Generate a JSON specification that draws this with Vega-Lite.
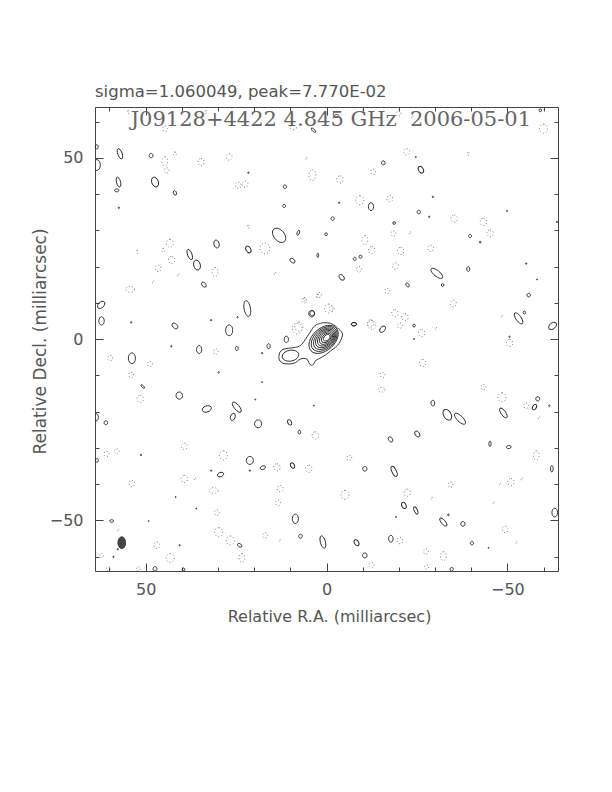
{
  "$schema": "https://vega.github.io/schema/vega-lite/v6.json",
  "width": 463,
  "height": 464,
  "autosize": {"type": "none"},
  "padding": {"left": 95, "top": 107, "right": 54, "bottom": 221},
  "background": "white",
  "title": {"text": "sigma=1.060049, peak=7.770E-02", "anchor": "start", "frame": "group", "offset": -7, "baseline": "alphabetic", "font": "DejaVu Sans", "fontSize": 16.5, "fontWeight": "normal", "color": "#555"},
  "config": {
    "view": {"stroke": "#444", "strokeWidth": 1},
    "axis": {"domain": false, "grid": false, "tickColor": "#444", "tickWidth": 1, "labelFont": "DejaVu Sans", "labelFontSize": 16, "labelColor": "#555", "labelFlush": false, "labelOverlap": false, "titleFont": "DejaVu Sans", "titleFontSize": 16, "titleFontWeight": "normal", "titleColor": "#555"}
  },
  "datasets": {
    "pos": [
      {"ra":63.5,"dec":53,"ext":1.2,"form":"oval","pa":0},
      {"ra":57.1,"dec":51.1,"ext":3,"form":"long","pa":-20},
      {"ra":63.5,"dec":48,"ext":3,"form":"oval","pa":0},
      {"ra":48.5,"dec":50.6,"ext":1.2,"form":"round","pa":0},
      {"ra":57.5,"dec":43.3,"ext":2.8,"form":"long","pa":-15},
      {"ra":58,"dec":41,"ext":1.2,"form":"oval","pa":90},
      {"ra":47.4,"dec":43.3,"ext":2.8,"form":"oval","pa":-20},
      {"ra":41.9,"dec":40.3,"ext":1.3,"form":"oval","pa":-20},
      {"ra":57.4,"dec":36.2,"ext":0.4,"form":"round","pa":0},
      {"ra":21.6,"dec":45.9,"ext":0.4,"form":"round","pa":0},
      {"ra":11.5,"dec":42,"ext":1,"form":"round","pa":0},
      {"ra":11.7,"dec":36.7,"ext":0.9,"form":"round","pa":0},
      {"ra":3.6,"dec":57.6,"ext":1.6,"form":"long","pa":-45},
      {"ra":13.1,"dec":28.6,"ext":4.5,"form":"oval","pa":-40},
      {"ra":7.8,"dec":29.3,"ext":1.5,"form":"long","pa":20},
      {"ra":0.1,"dec":28.9,"ext":0.8,"form":"round","pa":0},
      {"ra":30.4,"dec":26.2,"ext":2.2,"form":"oval","pa":-15},
      {"ra":21.6,"dec":24.7,"ext":2,"form":"oval","pa":-30},
      {"ra":2.4,"dec":23.1,"ext":1.2,"form":"long","pa":0},
      {"ra":9.4,"dec":21.6,"ext":1.6,"form":"oval","pa":-50},
      {"ra":37.8,"dec":23.3,"ext":3,"form":"long","pa":-20},
      {"ra":35.8,"dec":20.4,"ext":2.8,"form":"oval","pa":-15},
      {"ra":33.9,"dec":15,"ext":1.6,"form":"oval","pa":-40},
      {"ra":62.3,"dec":9.4,"ext":2.4,"form":"oval","pa":45},
      {"ra":62.2,"dec":5,"ext":2.3,"form":"oval","pa":0},
      {"ra":54,"dec":4.6,"ext":0.4,"form":"round","pa":0},
      {"ra":41.9,"dec":3.6,"ext":1.9,"form":"oval","pa":-45},
      {"ra":31.9,"dec":5.2,"ext":0.4,"form":"round","pa":0},
      {"ra":21.9,"dec":8.4,"ext":4.4,"form":"long","pa":-10},
      {"ra":24.6,"dec":6,"ext":0.4,"form":"round","pa":0},
      {"ra":26.9,"dec":2.4,"ext":3,"form":"oval","pa":0},
      {"ra":4.1,"dec":7,"ext":1.8,"form":"round","pa":0},
      {"ra":3.96,"dec":7.07,"ext":1.4,"form":"round","pa":0},
      {"ra":-7.57,"dec":4.04,"ext":1.4,"form":"oval","pa":90},
      {"ra":11.1,"dec":-0.1,"ext":1.8,"form":"oval","pa":0},
      {"ra":-2.8,"dec":61.5,"ext":1.3,"form":"oval","pa":90},
      {"ra":-15.7,"dec":48.6,"ext":1.1,"form":"round","pa":0},
      {"ra":-26.1,"dec":46.7,"ext":2,"form":"oval","pa":-30},
      {"ra":-29.4,"dec":39.2,"ext":0.4,"form":"round","pa":0},
      {"ra":-3.5,"dec":37.6,"ext":0.4,"form":"round","pa":0},
      {"ra":-12.3,"dec":36.5,"ext":2.2,"form":"oval","pa":0},
      {"ra":-25.5,"dec":35,"ext":1,"form":"round","pa":0},
      {"ra":-28.4,"dec":33.7,"ext":0.4,"form":"round","pa":0},
      {"ra":-1.7,"dec":33.2,"ext":1,"form":"round","pa":0},
      {"ra":-18.7,"dec":32,"ext":0.8,"form":"round","pa":0},
      {"ra":-39.7,"dec":28.4,"ext":0.9,"form":"round","pa":0},
      {"ra":-42.5,"dec":26.7,"ext":0.5,"form":"round","pa":0},
      {"ra":-7.8,"dec":22.1,"ext":0.9,"form":"round","pa":0},
      {"ra":-9.4,"dec":22.7,"ext":0.9,"form":"round","pa":0},
      {"ra":-4.2,"dec":17,"ext":1.8,"form":"oval","pa":-40},
      {"ra":-30.5,"dec":18.1,"ext":4,"form":"long","pa":-51},
      {"ra":-32.1,"dec":14.9,"ext":0.8,"form":"round","pa":0},
      {"ra":-22.4,"dec":14.9,"ext":1.2,"form":"oval","pa":-40},
      {"ra":-39.2,"dec":19.3,"ext":1.3,"form":"oval","pa":0},
      {"ra":-55.2,"dec":20.8,"ext":0.4,"form":"round","pa":0},
      {"ra":-55.9,"dec":12.1,"ext":1,"form":"round","pa":0},
      {"ra":-53.1,"dec":5.7,"ext":3.6,"form":"long","pa":-35},
      {"ra":-54.7,"dec":7.3,"ext":0.8,"form":"round","pa":0},
      {"ra":-62.5,"dec":3.6,"ext":2.5,"form":"oval","pa":50},
      {"ra":-7.6,"dec":4.1,"ext":1.5,"form":"oval","pa":90},
      {"ra":-15.5,"dec":2.7,"ext":2,"form":"oval","pa":40},
      {"ra":-24.2,"dec":3.7,"ext":0.8,"form":"round","pa":0},
      {"ra":-63.7,"dec":32.3,"ext":0.4,"form":"round","pa":0},
      {"ra":-49.9,"dec":35.3,"ext":0.3,"form":"round","pa":0},
      {"ra":-58.2,"dec":16.4,"ext":0.3,"form":"round","pa":0},
      {"ra":-24.7,"dec":50.2,"ext":0.3,"form":"round","pa":0},
      {"ra":-59.1,"dec":63.1,"ext":0.8,"form":"round","pa":0},
      {"ra":-50.6,"dec":0.6,"ext":0.4,"form":"round","pa":0},
      {"ra":53.8,"dec":-5.3,"ext":3,"form":"oval","pa":0},
      {"ra":42.9,"dec":-2,"ext":0.4,"form":"round","pa":0},
      {"ra":35.2,"dec":-2.9,"ext":2.2,"form":"oval","pa":0},
      {"ra":24.8,"dec":-2.6,"ext":1.2,"form":"oval","pa":0},
      {"ra":16,"dec":-2,"ext":1.4,"form":"oval","pa":0},
      {"ra":17.8,"dec":-3.9,"ext":0.4,"form":"round","pa":0},
      {"ra":29.8,"dec":-9.2,"ext":0.4,"form":"round","pa":0},
      {"ra":50.8,"dec":-13.1,"ext":1.3,"form":"long","pa":-45},
      {"ra":40.7,"dec":-15.6,"ext":2,"form":"round","pa":0},
      {"ra":33.1,"dec":-19.3,"ext":2.6,"form":"oval","pa":70},
      {"ra":24.8,"dec":-18.8,"ext":3.5,"form":"long","pa":-40},
      {"ra":25.9,"dec":-21.5,"ext":2,"form":"oval","pa":20},
      {"ra":18.9,"dec":-23.4,"ext":2.2,"form":"round","pa":0},
      {"ra":10.2,"dec":-23,"ext":1.6,"form":"oval","pa":-30},
      {"ra":7.5,"dec":-25.7,"ext":1.1,"form":"oval","pa":0},
      {"ra":63.7,"dec":-21.6,"ext":2,"form":"oval","pa":0},
      {"ra":61,"dec":-23.1,"ext":1.1,"form":"round","pa":0},
      {"ra":51.3,"dec":-32,"ext":0.4,"form":"round","pa":0},
      {"ra":21.2,"dec":-33.5,"ext":2.2,"form":"round","pa":0},
      {"ra":17.6,"dec":-35.5,"ext":1.5,"form":"oval","pa":70},
      {"ra":9.4,"dec":-34.9,"ext":1.6,"form":"oval","pa":-30},
      {"ra":29.3,"dec":-37.4,"ext":1.8,"form":"oval","pa":70},
      {"ra":31.9,"dec":-36.3,"ext":0.4,"form":"round","pa":0},
      {"ra":21.2,"dec":-36.3,"ext":0.4,"form":"round","pa":0},
      {"ra":59.4,"dec":-50.2,"ext":1.1,"form":"oval","pa":90},
      {"ra":8.6,"dec":-49.6,"ext":2.6,"form":"oval","pa":0},
      {"ra":7.2,"dec":-54.4,"ext":1.1,"form":"round","pa":0},
      {"ra":1,"dec":-56,"ext":3.5,"form":"long","pa":-15},
      {"ra":24,"dec":-56.9,"ext":1.3,"form":"oval","pa":-50},
      {"ra":40.6,"dec":-56.9,"ext":0.4,"form":"round","pa":0},
      {"ra":57.7,"dec":-58,"ext":0.4,"form":"round","pa":0},
      {"ra":58.9,"dec":-60.1,"ext":0.4,"form":"round","pa":0},
      {"ra":47.4,"dec":-63.4,"ext":1.2,"form":"round","pa":0},
      {"ra":39.5,"dec":-63.6,"ext":0.8,"form":"round","pa":0},
      {"ra":41.7,"dec":-43.6,"ext":0.3,"form":"round","pa":0},
      {"ra":36,"dec":-46.8,"ext":0.3,"form":"round","pa":0},
      {"ra":17.8,"dec":-11.9,"ext":0.3,"form":"round","pa":0},
      {"ra":19.7,"dec":-16.7,"ext":0.3,"form":"round","pa":0},
      {"ra":3.5,"dec":-18.4,"ext":0.3,"form":"round","pa":0},
      {"ra":49.2,"dec":-50.2,"ext":0.3,"form":"round","pa":0},
      {"ra":63.5,"dec":-33.5,"ext":1,"form":"round","pa":0},
      {"ra":-29.4,"dec":-17.7,"ext":1.6,"form":"oval","pa":0},
      {"ra":-33.4,"dec":-20.9,"ext":3.2,"form":"oval","pa":-30},
      {"ra":-36.9,"dec":-22,"ext":4,"form":"long","pa":-45},
      {"ra":-17.7,"dec":-27.7,"ext":1.6,"form":"oval","pa":-35},
      {"ra":-25.1,"dec":-26.2,"ext":1.8,"form":"oval","pa":-35},
      {"ra":-45.2,"dec":-28.9,"ext":1.5,"form":"long","pa":0},
      {"ra":-50.4,"dec":-29.8,"ext":1.3,"form":"oval","pa":80},
      {"ra":-58.4,"dec":-16.5,"ext":1.2,"form":"round","pa":0},
      {"ra":-57.5,"dec":-18.8,"ext":1.6,"form":"oval","pa":30},
      {"ra":-61.6,"dec":-18.4,"ext":0.4,"form":"round","pa":0},
      {"ra":-48.9,"dec":-20.4,"ext":3.2,"form":"long","pa":-35},
      {"ra":-10.6,"dec":-35.8,"ext":1.3,"form":"round","pa":0},
      {"ra":-18.7,"dec":-36.5,"ext":3,"form":"long","pa":-25},
      {"ra":-62.3,"dec":-35.8,"ext":1.8,"form":"long","pa":0},
      {"ra":-21.4,"dec":-45.9,"ext":1.8,"form":"oval","pa":-25},
      {"ra":-24.7,"dec":-47.3,"ext":2.2,"form":"long","pa":-25},
      {"ra":-32.3,"dec":-50.5,"ext":2.8,"form":"long","pa":-40},
      {"ra":-33.7,"dec":-48.5,"ext":0.5,"form":"round","pa":0},
      {"ra":-37.7,"dec":-51,"ext":1.3,"form":"round","pa":0},
      {"ra":-63.1,"dec":-47.9,"ext":2.4,"form":"oval","pa":0},
      {"ra":-8.3,"dec":-56.2,"ext":1.8,"form":"oval","pa":-30},
      {"ra":-17.8,"dec":-55.1,"ext":1.9,"form":"oval","pa":0},
      {"ra":-10.6,"dec":-59.7,"ext":1.4,"form":"round","pa":0},
      {"ra":-40.2,"dec":-56.3,"ext":1,"form":"round","pa":0},
      {"ra":-34.6,"dec":-63.5,"ext":1,"form":"round","pa":0},
      {"ra":-44.8,"dec":-57.6,"ext":0.3,"form":"round","pa":0},
      {"ra":-19.2,"dec":-49.1,"ext":0.3,"form":"round","pa":0},
      {"ra":-24.2,"dec":0,"ext":0.3,"form":"round","pa":0}
    ],
    "neg": [
      {"ra":54.8,"dec":62.6,"ext":0.8,"form":"round","pa":0},
      {"ra":33.4,"dec":62.6,"ext":0.8,"form":"round","pa":0},
      {"ra":44.6,"dec":58,"ext":1.5,"form":"round","pa":0},
      {"ra":9.2,"dec":58.3,"ext":1.8,"form":"oval","pa":90},
      {"ra":44.7,"dec":49,"ext":2.5,"form":"oval","pa":0},
      {"ra":41.9,"dec":51.1,"ext":1,"form":"round","pa":0},
      {"ra":44.2,"dec":46.5,"ext":1.5,"form":"round","pa":0},
      {"ra":34.7,"dec":48.8,"ext":2,"form":"round","pa":0},
      {"ra":26.9,"dec":50.2,"ext":1.8,"form":"round","pa":0},
      {"ra":5.5,"dec":49.8,"ext":0.6,"form":"round","pa":0},
      {"ra":3.9,"dec":45.2,"ext":3,"form":"oval","pa":0},
      {"ra":24.4,"dec":42.4,"ext":1.8,"form":"round","pa":0},
      {"ra":22.5,"dec":42.7,"ext":1.8,"form":"round","pa":0},
      {"ra":21.6,"dec":31,"ext":0.8,"form":"round","pa":0},
      {"ra":52.3,"dec":24.1,"ext":0.8,"form":"round","pa":0},
      {"ra":43.3,"dec":26.4,"ext":2.2,"form":"round","pa":0},
      {"ra":45.1,"dec":24.5,"ext":1,"form":"round","pa":0},
      {"ra":42.8,"dec":21.8,"ext":2,"form":"round","pa":0},
      {"ra":46.5,"dec":19.5,"ext":1.8,"form":"round","pa":0},
      {"ra":41,"dec":17.6,"ext":0.6,"form":"round","pa":0},
      {"ra":47.9,"dec":15.8,"ext":0.6,"form":"round","pa":0},
      {"ra":30.8,"dec":18.5,"ext":2.5,"form":"oval","pa":0},
      {"ra":54.3,"dec":13.7,"ext":2.5,"form":"oval","pa":90},
      {"ra":17,"dec":25,"ext":3,"form":"round","pa":0},
      {"ra":14.2,"dec":18.1,"ext":0.6,"form":"round","pa":0},
      {"ra":6.1,"dec":10.9,"ext":0.8,"form":"round","pa":0},
      {"ra":2.4,"dec":11.8,"ext":1,"form":"round","pa":0},
      {"ra":7.6,"dec":3.4,"ext":2.5,"form":"round","pa":0},
      {"ra":8.1,"dec":2.9,"ext":3,"form":"round","pa":0},
      {"ra":-0.6,"dec":8.4,"ext":2.5,"form":"round","pa":0},
      {"ra":6.2,"dec":10.7,"ext":1.5,"form":"round","pa":0},
      {"ra":2.1,"dec":12.1,"ext":1.5,"form":"round","pa":0},
      {"ra":-12.2,"dec":4.3,"ext":2,"form":"round","pa":0},
      {"ra":-10.2,"dec":62.9,"ext":0.8,"form":"round","pa":0},
      {"ra":-19.9,"dec":62.2,"ext":1.5,"form":"round","pa":0},
      {"ra":-23.8,"dec":61.2,"ext":0.6,"form":"round","pa":0},
      {"ra":-60,"dec":58,"ext":2.5,"form":"round","pa":0},
      {"ra":-22.2,"dec":51.6,"ext":1.8,"form":"round","pa":0},
      {"ra":-39.2,"dec":51.1,"ext":0.8,"form":"round","pa":0},
      {"ra":-12.9,"dec":46.1,"ext":1.5,"form":"round","pa":0},
      {"ra":-3.7,"dec":44,"ext":2,"form":"round","pa":0},
      {"ra":-9.2,"dec":38.3,"ext":2.5,"form":"round","pa":0},
      {"ra":-17.5,"dec":38.7,"ext":1.8,"form":"round","pa":0},
      {"ra":-35.3,"dec":33.2,"ext":2,"form":"round","pa":0},
      {"ra":-43.4,"dec":32.3,"ext":2,"form":"round","pa":0},
      {"ra":-45.2,"dec":29.1,"ext":2,"form":"round","pa":0},
      {"ra":-18.5,"dec":29.1,"ext":1.5,"form":"round","pa":0},
      {"ra":-23.1,"dec":29.3,"ext":0.6,"form":"round","pa":0},
      {"ra":-10.6,"dec":27.3,"ext":2.5,"form":"oval","pa":0},
      {"ra":-12.5,"dec":24.5,"ext":2,"form":"round","pa":0},
      {"ra":-20.5,"dec":24.3,"ext":2,"form":"round","pa":0},
      {"ra":-28.8,"dec":25,"ext":1.8,"form":"round","pa":0},
      {"ra":-19.1,"dec":20.1,"ext":1.8,"form":"round","pa":0},
      {"ra":-9,"dec":19.2,"ext":1.5,"form":"round","pa":0},
      {"ra":-16.8,"dec":13.2,"ext":1.5,"form":"round","pa":0},
      {"ra":-35.1,"dec":9.8,"ext":1.8,"form":"round","pa":0},
      {"ra":-1.4,"dec":8.4,"ext":1.5,"form":"round","pa":0},
      {"ra":-18.9,"dec":7.1,"ext":2,"form":"round","pa":0},
      {"ra":-21.7,"dec":6,"ext":2,"form":"round","pa":0},
      {"ra":-12.5,"dec":3.9,"ext":2.5,"form":"round","pa":0},
      {"ra":-20.3,"dec":3.7,"ext":1.5,"form":"round","pa":0},
      {"ra":-26.3,"dec":1.6,"ext":2,"form":"round","pa":0},
      {"ra":-30.3,"dec":2.9,"ext":0.6,"form":"round","pa":0},
      {"ra":-48.5,"dec":6.3,"ext":0.6,"form":"round","pa":0},
      {"ra":59.8,"dec":-5.3,"ext":1.5,"form":"round","pa":0},
      {"ra":48.8,"dec":-6.9,"ext":1.5,"form":"round","pa":0},
      {"ra":54,"dec":-9.9,"ext":1.5,"form":"round","pa":0},
      {"ra":51.5,"dec":-16.5,"ext":2,"form":"round","pa":0},
      {"ra":30.6,"dec":-3.5,"ext":1.5,"form":"round","pa":0},
      {"ra":39.3,"dec":-29.6,"ext":1.8,"form":"round","pa":0},
      {"ra":60.8,"dec":-31.7,"ext":1.5,"form":"round","pa":0},
      {"ra":58,"dec":-31,"ext":1.5,"form":"round","pa":0},
      {"ra":28.5,"dec":-32.1,"ext":2.5,"form":"round","pa":0},
      {"ra":13.7,"dec":-35.4,"ext":2,"form":"round","pa":0},
      {"ra":4.9,"dec":-35.8,"ext":2,"form":"round","pa":0},
      {"ra":3.1,"dec":-26.6,"ext":2,"form":"round","pa":0},
      {"ra":53.8,"dec":-39.9,"ext":1.8,"form":"round","pa":0},
      {"ra":39.3,"dec":-38.6,"ext":2,"form":"round","pa":0},
      {"ra":36.3,"dec":-38.6,"ext":0.6,"form":"round","pa":0},
      {"ra":31.2,"dec":-41.8,"ext":2.5,"form":"oval","pa":90},
      {"ra":12.8,"dec":-41.3,"ext":1.8,"form":"round","pa":0},
      {"ra":13.4,"dec":-45.2,"ext":1.5,"form":"round","pa":0},
      {"ra":30.3,"dec":-47.9,"ext":1.5,"form":"round","pa":0},
      {"ra":29.8,"dec":-53.3,"ext":2.5,"form":"round","pa":0},
      {"ra":26.6,"dec":-55.6,"ext":2.5,"form":"round","pa":0},
      {"ra":16.9,"dec":-54.2,"ext":1.5,"form":"round","pa":0},
      {"ra":12.9,"dec":-55.6,"ext":0.6,"form":"round","pa":0},
      {"ra":46.9,"dec":-56.9,"ext":1.8,"form":"round","pa":0},
      {"ra":43.2,"dec":-60.4,"ext":2.5,"form":"round","pa":0},
      {"ra":23.4,"dec":-60.4,"ext":2.5,"form":"oval","pa":0},
      {"ra":60.3,"dec":-63.4,"ext":1.2,"form":"round","pa":0},
      {"ra":52,"dec":-63.4,"ext":1.2,"form":"round","pa":0},
      {"ra":62.2,"dec":-59.7,"ext":1.2,"form":"round","pa":0},
      {"ra":57.5,"dec":-52.8,"ext":0.6,"form":"round","pa":0},
      {"ra":-50.6,"dec":-1.1,"ext":2,"form":"round","pa":0},
      {"ra":-26.6,"dec":-6.6,"ext":2,"form":"round","pa":0},
      {"ra":-15.5,"dec":-9.9,"ext":1.5,"form":"round","pa":0},
      {"ra":-15.2,"dec":-14,"ext":2,"form":"oval","pa":90},
      {"ra":-43.4,"dec":-13.3,"ext":1.5,"form":"round","pa":0},
      {"ra":-48.5,"dec":-16.1,"ext":2.5,"form":"round","pa":0},
      {"ra":-55.2,"dec":-18.4,"ext":1.5,"form":"round","pa":0},
      {"ra":-58.8,"dec":-21.8,"ext":0.6,"form":"round","pa":0},
      {"ra":-6.3,"dec":-32.8,"ext":1.5,"form":"round","pa":0},
      {"ra":-58,"dec":-32.1,"ext":2.5,"form":"oval","pa":0},
      {"ra":-34.3,"dec":-40.2,"ext":1.5,"form":"round","pa":0},
      {"ra":-51,"dec":-39.5,"ext":2,"form":"round","pa":0},
      {"ra":-54,"dec":-38.6,"ext":0.6,"form":"round","pa":0},
      {"ra":-48,"dec":-40.1,"ext":0.6,"form":"round","pa":0},
      {"ra":-5.1,"dec":-43,"ext":2.5,"form":"round","pa":0},
      {"ra":-22.3,"dec":-42.4,"ext":2,"form":"round","pa":0},
      {"ra":-29.1,"dec":-43.9,"ext":0.6,"form":"round","pa":0},
      {"ra":-46.2,"dec":-45.2,"ext":0.6,"form":"round","pa":0},
      {"ra":-49.4,"dec":-52.5,"ext":1.8,"form":"round","pa":0},
      {"ra":-52.6,"dec":-56.2,"ext":0.6,"form":"round","pa":0},
      {"ra":-20.3,"dec":-55.6,"ext":1.8,"form":"round","pa":0},
      {"ra":-27.5,"dec":-58.6,"ext":1.5,"form":"round","pa":0},
      {"ra":-32.3,"dec":-59.9,"ext":2.5,"form":"oval","pa":0},
      {"ra":-12.5,"dec":-62.4,"ext":1.5,"form":"round","pa":0},
      {"ra":-27.7,"dec":-62.9,"ext":1.2,"form":"round","pa":0}
    ],
    "outline": [
      {"i":0,"ra":2.58,"dec":4.04},{"i":1,"ra":0.74,"dec":4.5},{"i":2,"ra":-1.11,"dec":4.32},{"i":3,"ra":-2.49,"dec":3.58},
      {"i":4,"ra":-3.42,"dec":2.66},{"i":5,"ra":-4.16,"dec":2.02},{"i":6,"ra":-4.43,"dec":1.1},{"i":7,"ra":-4.06,"dec":-0.09},
      {"i":8,"ra":-3.51,"dec":-1.19},{"i":9,"ra":-2.49,"dec":-2.3},{"i":10,"ra":-1.11,"dec":-3.31},{"i":11,"ra":0.28,"dec":-4.41},
      {"i":12,"ra":1.85,"dec":-5.33},{"i":13,"ra":3.05,"dec":-5.97},{"i":14,"ra":3.51,"dec":-6.89},{"i":15,"ra":4.25,"dec":-7.25},
      {"i":16,"ra":4.9,"dec":-6.52},{"i":17,"ra":5.35,"dec":-5.6},{"i":18,"ra":6.46,"dec":-5.33},{"i":19,"ra":7.66,"dec":-5.79},
      {"i":20,"ra":8.59,"dec":-6.52},{"i":21,"ra":10.16,"dec":-6.89},{"i":22,"ra":12.0,"dec":-6.7},{"i":23,"ra":13.02,"dec":-5.79},
      {"i":24,"ra":13.11,"dec":-4.41},{"i":25,"ra":12.56,"dec":-3.21},{"i":26,"ra":11.36,"dec":-2.66},{"i":27,"ra":9.79,"dec":-2.48},
      {"i":28,"ra":8.59,"dec":-2.3},{"i":29,"ra":7.39,"dec":-1.93},{"i":30,"ra":6.46,"dec":-1.01},{"i":31,"ra":5.35,"dec":0.64},
      {"i":32,"ra":4.25,"dec":2.3},{"i":33,"ra":3.51,"dec":3.4},{"i":34,"ra":2.58,"dec":4.04}
    ],
    "source": [
      {"ra":0.8,"dec":-0.1,"ext":9.4,"form":"oval","pa":48},
      {"ra":0.65,"dec":0.0,"ext":8.3,"form":"oval","pa":48},
      {"ra":0.5,"dec":0.08,"ext":7.2,"form":"oval","pa":48},
      {"ra":0.38,"dec":0.15,"ext":6.2,"form":"oval","pa":48},
      {"ra":0.26,"dec":0.2,"ext":5.2,"form":"oval","pa":48},
      {"ra":0.15,"dec":0.25,"ext":4.2,"form":"oval","pa":48},
      {"ra":0.05,"dec":0.3,"ext":3.2,"form":"oval","pa":48},
      {"ra":-0.05,"dec":0.35,"ext":2.2,"form":"oval","pa":48},
      {"ra":9.97,"dec":-4.6,"ext":4.6,"form":"oval","pa":80}
    ],
    "beam": [
      {"ra":56.6,"dec":-56.2,"ext":3.3,"form":"oval","pa":0}
    ],
    "label": [
      {"text":"J09128+4422 4.845 GHz\u00a0 2006-05-01","ra":-1.2,"dec":58.7}
    ]
  },
  "layer": [
    {
      "data": {"name": "pos"},
      "mark": {"type": "point", "filled": false, "stroke": "#222", "strokeWidth": 0.9, "opacity": 1, "clip": true},
      "encoding": {
        "x": {"field": "ra", "type": "quantitative", "scale": {"domain": [64, -64], "nice": false, "zero": false},
              "axis": {"orient": "bottom", "values": [-50, 0, 50], "tickSize": -8, "labelPadding": 18, "title": "Relative R.A. (milliarcsec)", "titleX": 234, "titleY": 50, "titleAlign": "center", "titleBaseline": "alphabetic"}},
        "y": {"field": "dec", "type": "quantitative", "scale": {"domain": [-64, 64], "nice": false, "zero": false},
              "axis": {"orient": "left", "values": [-50, 0, 50], "tickSize": -8, "labelPadding": 20, "title": "Relative Decl. (milliarcsec)", "titleFontSize": 17, "titleX": -50, "titleY": 234, "titleAngle": -90, "titleAlign": "center", "titleBaseline": "alphabetic"}},
        "size": {"field": "ext", "type": "quantitative", "scale": {"type": "pow", "exponent": 2, "domain": [0, 10], "range": [0, 1310]}, "legend": null},
        "shape": {"field": "form", "type": "nominal", "scale": {"domain": ["round", "oval", "long"], "range": [
          "M0,-1C0.497,-1 0.9,-0.552 0.9,0C0.9,0.552 0.497,1 0,1C-0.497,1 -0.9,0.552 -0.9,0C-0.9,-0.552 -0.497,-1 0,-1Z",
          "M0,-1C0.359,-1 0.65,-0.552 0.65,0C0.65,0.552 0.359,1 0,1C-0.359,1 -0.65,0.552 -0.65,0C-0.65,-0.552 -0.359,-1 0,-1Z",
          "M0,-1C0.221,-1 0.4,-0.552 0.4,0C0.4,0.552 0.221,1 0,1C-0.221,1 -0.4,0.552 -0.4,0C-0.4,-0.552 -0.221,-1 0,-1Z"]}, "legend": null},
        "angle": {"field": "pa", "type": "quantitative", "scale": null}
      }
    },
    {
      "data": {"name": "neg"},
      "mark": {"type": "point", "filled": false, "stroke": "#666", "strokeWidth": 0.8, "strokeDash": [1, 2.2], "opacity": 1, "clip": true},
      "encoding": {
        "x": {"field": "ra", "type": "quantitative", "axis": {"orient": "top", "values": [-50, 0, 50], "tickSize": -8, "labels": false, "title": null}},
        "y": {"field": "dec", "type": "quantitative", "axis": {"orient": "right", "values": [-50, 0, 50], "tickSize": -8, "labels": false, "title": null}},
        "size": {"field": "ext", "type": "quantitative", "legend": null},
        "shape": {"field": "form", "type": "nominal", "legend": null},
        "angle": {"field": "pa", "type": "quantitative", "scale": null}
      }
    },
    {
      "data": {"name": "outline"},
      "mark": {"type": "line", "stroke": "#222", "strokeWidth": 0.9, "interpolate": "cardinal", "clip": true},
      "encoding": {
        "x": {"field": "ra", "type": "quantitative", "axis": {"orient": "bottom", "values": [-60, -40, -30, -20, -10, 10, 20, 30, 40, 60], "tickSize": -4, "labels": false, "title": null}},
        "y": {"field": "dec", "type": "quantitative", "axis": {"orient": "left", "values": [-60, -40, -30, -20, -10, 10, 20, 30, 40, 60], "tickSize": -4, "labels": false, "title": null}},
        "order": {"field": "i", "type": "quantitative"}
      }
    },
    {
      "data": {"name": "source"},
      "mark": {"type": "point", "filled": false, "stroke": "#222", "strokeWidth": 0.9, "opacity": 1, "clip": true},
      "encoding": {
        "x": {"field": "ra", "type": "quantitative", "axis": {"orient": "top", "values": [-60, -40, -30, -20, -10, 10, 20, 30, 40, 60], "tickSize": -4, "labels": false, "title": null}},
        "y": {"field": "dec", "type": "quantitative", "axis": {"orient": "right", "values": [-60, -40, -30, -20, -10, 10, 20, 30, 40, 60], "tickSize": -4, "labels": false, "title": null}},
        "size": {"field": "ext", "type": "quantitative", "legend": null},
        "shape": {"field": "form", "type": "nominal", "legend": null},
        "angle": {"field": "pa", "type": "quantitative", "scale": null}
      }
    },
    {
      "data": {"name": "beam"},
      "mark": {"type": "point", "filled": true, "fill": "#444", "stroke": "#333", "strokeWidth": 0.8, "opacity": 1},
      "encoding": {
        "x": {"field": "ra", "type": "quantitative", "axis": null},
        "y": {"field": "dec", "type": "quantitative", "axis": null},
        "size": {"field": "ext", "type": "quantitative", "legend": null},
        "shape": {"field": "form", "type": "nominal", "legend": null},
        "angle": {"field": "pa", "type": "quantitative", "scale": null}
      }
    },
    {
      "data": {"name": "label"},
      "mark": {"type": "text", "font": "DejaVu Serif", "fontSize": 21, "color": "#666", "align": "center", "baseline": "alphabetic"},
      "encoding": {
        "x": {"field": "ra", "type": "quantitative", "axis": null},
        "y": {"field": "dec", "type": "quantitative", "axis": null},
        "text": {"field": "text", "type": "nominal"}
      }
    }
  ],
  "resolve": {"axis": {"x": "independent", "y": "independent"}}
}
